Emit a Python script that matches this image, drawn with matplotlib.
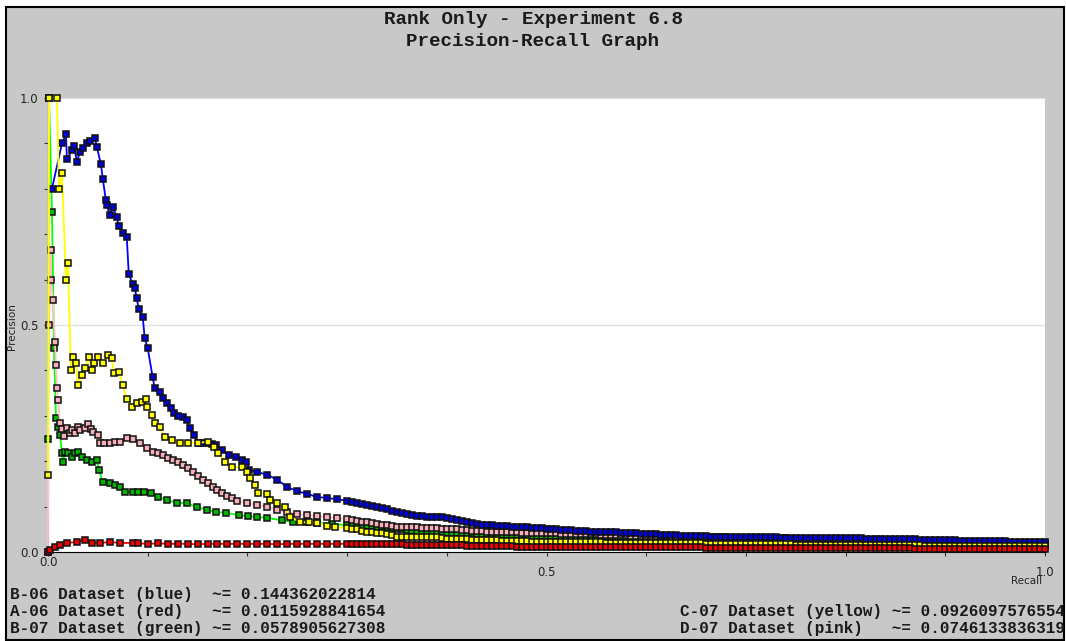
import numpy as np
import matplotlib
matplotlib.use("Agg")
import matplotlib.pyplot as plt
from matplotlib.patches import Rectangle
from matplotlib.transforms import ScaledTranslation

# ---- data ----------------------------------------------------------------- #
# head of every curve is listed point by point; the long flat tail is read
# every 0.005 of recall from 0.30 to 1.00
TAIL_RECALL = np.round(np.arange(0.300, 1.0001, 0.005), 3)

blue_recall = [0.004, 0.014, 0.018, 0.019, 0.024, 0.026, 0.029, 0.032, 0.035, 0.039,
               0.042, 0.047, 0.049, 0.053, 0.055, 0.058, 0.059, 0.062, 0.065, 0.069,
               0.071, 0.075, 0.079, 0.081, 0.085, 0.087, 0.089, 0.091, 0.095, 0.097,
               0.100, 0.105, 0.107, 0.112, 0.115, 0.119, 0.123, 0.126, 0.130, 0.135,
               0.139, 0.142, 0.146, 0.151, 0.155, 0.159, 0.164, 0.169, 0.175, 0.182,
               0.189, 0.195, 0.199, 0.202, 0.210, 0.220, 0.230, 0.240, 0.250, 0.260,
               0.270, 0.280, 0.290]
blue_prec = [0.80, 0.90, 0.92, 0.865, 0.885, 0.895, 0.86, 0.88, 0.89, 0.90,
             0.905, 0.912, 0.892, 0.855, 0.822, 0.775, 0.764, 0.742, 0.76, 0.738,
             0.718, 0.703, 0.694, 0.612, 0.59, 0.581, 0.559, 0.535, 0.518, 0.471,
             0.449, 0.385, 0.361, 0.352, 0.339, 0.328, 0.317, 0.306, 0.300, 0.297,
             0.291, 0.273, 0.258, 0.240, 0.241, 0.240, 0.238, 0.236, 0.225, 0.214,
             0.209, 0.203, 0.198, 0.181, 0.176, 0.170, 0.159, 0.143, 0.134, 0.128,
             0.121, 0.119, 0.116]
blue_tail = [.113, .110, .108, .106, .104, .102, .100, .097, .094, .091,
             .088, .086, .084, .082, .080, .079, .078, .077, .077, .076,
             .075, .072, .070, .068, .066, .064, .062, .060, .059, .059,
             .058, .057, .057, .056, .055, .055, .054, .053, .052, .052,
             .051, .050, .050, .049, .048, .048, .047, .046, .046, .045,
             .045, .044, .044, .043, .043, .042, .042, .041, .041, .040,
             .040, .039, .039, .038, .038, .037, .037, .036, .036, .035,
             .035, .035, .035, .034, .034, .034, .034, .033, .033, .033,
             .033, .033, .033, .032, .032, .032, .032, .031, .031, .031,
             .031, .031, .031, .030, .030, .030, .030, .030, .030, .030,
             .030, .030, .030, .030, .029, .029, .029, .029, .029, .029,
             .029, .028, .028, .028, .028, .027, .027, .027, .027, .026,
             .026, .026, .026, .025, .025, .025, .025, .025, .025, .024,
             .024, .024, .024, .023, .023, .023, .023, .023, .023, .022,
             .022]

red_recall = [0.0, 0.002, 0.007, 0.012, 0.019, 0.029, 0.037, 0.044, 0.052, 0.062,
              0.072, 0.085, 0.09, 0.10, 0.11, 0.12, 0.13, 0.14, 0.15, 0.16,
              0.17, 0.18, 0.19, 0.20, 0.21, 0.22, 0.23, 0.24, 0.25, 0.26,
              0.27, 0.28, 0.29]
red_prec = [0.0, 0.004, 0.011, 0.015, 0.020, 0.022, 0.026, 0.020, 0.020, 0.022,
            0.020, 0.020, 0.019, 0.018, 0.019, 0.018, 0.018, 0.018, 0.017, 0.018,
            0.018, 0.018, 0.018, 0.018, 0.018, 0.018, 0.017, 0.018, 0.018, 0.018,
            0.018, 0.018, 0.018]
red_tail = [.018, .018, .018, .018, .018, .018, .017, .017, .017, .017,
            .017, .017, .016, .016, .016, .016, .016, .016, .015, .015,
            .015, .015, .015, .015, .014, .014, .014, .014, .013, .013,
            .013, .013, .013, .013, .012, .012, .012, .012, .012, .012,
            .011, .011, .011, .011, .011, .011, .011, .011, .011, .011,
            .010, .010, .010, .010, .010, .010, .010, .010, .010, .010,
            .010, .010, .010, .010, .010, .010, .010, .010, .010, .010,
            .010, .010, .009, .009, .009, .009, .009, .009, .009, .009,
            .009, .009, .009, .009, .009, .009, .009, .009, .009, .009,
            .009, .009, .009, .009, .009, .009, .008, .008, .008, .008,
            .008, .008, .008, .008, .008, .008, .008, .008, .008, .008,
            .008, .008, .008, .008, .007, .007, .007, .007, .007, .007,
            .007, .007, .007, .007, .007, .007, .007, .007, .007, .007,
            .007, .007, .007, .007, .007, .007, .007, .007, .007, .007,
            .007]

green_recall = [0.0, 0.001, 0.004, 0.006, 0.008, 0.010, 0.012, 0.014, 0.015, 0.017,
                0.020, 0.024, 0.027, 0.030, 0.034, 0.039, 0.044, 0.049, 0.051, 0.055,
                0.062, 0.067, 0.072, 0.077, 0.085, 0.090, 0.096, 0.103, 0.110, 0.119,
                0.129, 0.139, 0.149, 0.159, 0.169, 0.179, 0.192, 0.201, 0.210, 0.220,
                0.235, 0.246, 0.260, 0.270, 0.285]
green_prec = [0.25, 1.0, 0.749, 0.45, 0.295, 0.275, 0.258, 0.218, 0.198, 0.22,
              0.218, 0.209, 0.218, 0.22, 0.209, 0.203, 0.198, 0.203, 0.181, 0.154,
              0.152, 0.148, 0.143, 0.132, 0.132, 0.133, 0.132, 0.130, 0.121, 0.115,
              0.108, 0.108, 0.099, 0.093, 0.088, 0.086, 0.081, 0.079, 0.077, 0.075,
              0.070, 0.066, 0.065, 0.064, 0.062]
green_tail = [.059, .059, .058, .058, .057, .057, .056, .055, .054, .053,
              .051, .050, .048, .046, .045, .044, .044, .043, .043, .043,
              .042, .042, .042, .041, .041, .041, .040, .040, .039, .039,
              .038, .038, .037, .037, .037, .037, .036, .036, .036, .035,
              .035, .035, .035, .034, .034, .034, .034, .033, .033, .033,
              .033, .033, .033, .032, .032, .032, .032, .031, .031, .031,
              .031, .031, .031, .030, .030, .030, .030, .030, .030, .029,
              .029, .029, .029, .029, .029, .028, .028, .028, .028, .028,
              .028, .027, .027, .027, .027, .027, .027, .026, .026, .026,
              .026, .026, .026, .025, .025, .025, .025, .025, .025, .024,
              .024, .024, .024, .024, .024, .023, .023, .023, .023, .023,
              .023, .022, .022, .022, .022, .022, .022, .021, .021, .021,
              .021, .021, .021, .020, .020, .020, .020, .020, .020, .019,
              .019, .019, .019, .019, .019, .018, .018, .018, .018, .018,
              .018]

yellow_recall = [0.0, 0.001, 0.009, 0.011, 0.014, 0.018, 0.020, 0.023, 0.025, 0.028,
                 0.030, 0.034, 0.037, 0.041, 0.044, 0.046, 0.050, 0.055, 0.060, 0.064,
                 0.066, 0.071, 0.075, 0.079, 0.084, 0.089, 0.094, 0.098, 0.099, 0.104,
                 0.107, 0.112, 0.117, 0.124, 0.132, 0.140, 0.150, 0.160, 0.166, 0.171,
                 0.178, 0.185, 0.195, 0.200, 0.203, 0.208, 0.211, 0.220, 0.223, 0.230,
                 0.238, 0.243, 0.253, 0.262, 0.270, 0.280, 0.288]
yellow_prec = [0.17, 1.0, 1.0, 0.80, 0.835, 0.60, 0.637, 0.401, 0.43, 0.416,
               0.368, 0.39, 0.405, 0.43, 0.401, 0.416, 0.43, 0.416, 0.434, 0.427,
               0.394, 0.396, 0.368, 0.337, 0.319, 0.328, 0.33, 0.337, 0.319, 0.302,
               0.284, 0.275, 0.253, 0.247, 0.24, 0.24, 0.24, 0.243, 0.231, 0.218,
               0.198, 0.187, 0.187, 0.176, 0.163, 0.148, 0.130, 0.128, 0.115, 0.108,
               0.099, 0.077, 0.066, 0.065, 0.064, 0.058, 0.055]
yellow_tail = [.053, .051, .050, .047, .044, .043, .042, .041, .040, .037,
               .034, .034, .033, .033, .033, .033, .033, .033, .032, .030,
               .029, .029, .029, .028, .028, .027, .027, .026, .026, .026,
               .026, .025, .025, .025, .025, .024, .024, .023, .023, .022,
               .022, .022, .022, .022, .022, .022, .022, .022, .021, .021,
               .021, .021, .020, .020, .020, .020, .020, .020, .020, .020,
               .020, .020, .019, .019, .019, .019, .019, .019, .019, .019,
               .019, .019, .018, .018, .018, .018, .018, .018, .018, .018,
               .017, .017, .017, .017, .017, .017, .017, .017, .017, .017,
               .016, .016, .016, .016, .016, .016, .016, .016, .016, .016,
               .016, .016, .015, .015, .015, .015, .015, .015, .015, .015,
               .015, .015, .015, .015, .015, .015, .014, .014, .014, .014,
               .014, .014, .014, .014, .014, .014, .014, .014, .014, .014,
               .014, .014, .013, .013, .013, .013, .013, .013, .013, .013,
               .013]

pink_recall = [0.0, 0.001, 0.001, 0.003, 0.003, 0.005, 0.007, 0.008, 0.009, 0.010,
               0.012, 0.014, 0.016, 0.019, 0.022, 0.024, 0.027, 0.030, 0.032, 0.037,
               0.040, 0.043, 0.045, 0.050, 0.052, 0.056, 0.062, 0.067, 0.072, 0.079,
               0.085, 0.092, 0.099, 0.105, 0.110, 0.115, 0.120, 0.125, 0.130, 0.135,
               0.140, 0.145, 0.150, 0.155, 0.160, 0.165, 0.170, 0.175, 0.180, 0.185,
               0.190, 0.200, 0.210, 0.220, 0.230, 0.240, 0.250, 0.260, 0.270, 0.280,
               0.290]
pink_prec = [0.0, 1.0, 0.5, 0.665, 0.60, 0.555, 0.463, 0.412, 0.361, 0.335,
             0.284, 0.27, 0.255, 0.273, 0.262, 0.268, 0.262, 0.275, 0.268, 0.273,
             0.282, 0.270, 0.264, 0.258, 0.240, 0.241, 0.240, 0.243, 0.242, 0.251,
             0.249, 0.240, 0.229, 0.220, 0.217, 0.214, 0.208, 0.203, 0.198, 0.192,
             0.184, 0.176, 0.168, 0.159, 0.151, 0.143, 0.137, 0.130, 0.124, 0.118,
             0.113, 0.108, 0.103, 0.099, 0.093, 0.088, 0.084, 0.081, 0.079, 0.077,
             0.075]
pink_tail = [.072, .070, .069, .067, .065, .063, .062, .060, .059, .057,
             .056, .055, .055, .054, .054, .053, .053, .052, .052, .051,
             .051, .050, .050, .049, .048, .047, .047, .046, .045, .044,
             .044, .043, .043, .043, .043, .042, .042, .042, .042, .041,
             .041, .041, .041, .040, .040, .040, .040, .039, .039, .039,
             .039, .038, .038, .038, .037, .037, .037, .036, .036, .036,
             .036, .035, .035, .035, .035, .034, .034, .034, .034, .033,
             .033, .033, .033, .032, .032, .032, .032, .031, .031, .031,
             .031, .031, .031, .030, .030, .030, .030, .030, .030, .029,
             .029, .029, .029, .029, .029, .028, .028, .028, .028, .028,
             .028, .027, .027, .027, .027, .027, .027, .026, .026, .026,
             .026, .026, .026, .025, .025, .025, .025, .024, .024, .024,
             .024, .023, .023, .023, .023, .022, .022, .022, .022, .021,
             .021, .021, .021, .020, .020, .020, .020, .019, .019, .019,
             .019]

legend_left = ["B-06 Dataset (blue)  ~= 0.144362022814",
               "A-06 Dataset (red)   ~= 0.0115928841654",
               "B-07 Dataset (green) ~= 0.0578905627308"]
legend_right = ["C-07 Dataset (yellow) ~= 0.0926097576554",
                "D-07 Dataset (pink)   ~= 0.0746133836319"]

# (recall, precision, tail, line colour, marker fill), bottom layer first
series = [
    (green_recall, green_prec, green_tail, "#00ff00", "#00b400"),
    (pink_recall, pink_prec, pink_tail, "#ffc0cb", "#f7b0ba"),
    (blue_recall, blue_prec, blue_tail, "#0000ff", "#0000dd"),
    (yellow_recall, yellow_prec, yellow_tail, "#ffff00", "#ffff00"),
    (red_recall, red_prec, red_tail, "#ff0000", "#ee0000"),
]

W, H = 1066, 641
fig = plt.figure(figsize=(W / 100, H / 100), dpi=100, facecolor="white")

# gray panel with black frame, kept behind the axes
fig.patches.append(Rectangle((6 / W, 1 / H), 1058 / W, 633 / H, transform=fig.transFigure,
                             facecolor="#c8c8c8", edgecolor="black", lw=1.5, zorder=-5))

ax = fig.add_axes([48 / W, (H - 552) / H, 997 / W, 454 / H])
ax.set_facecolor("white")

for k, (rec, prec, tail, lc, fc) in enumerate(series):
    x = np.concatenate([rec, TAIL_RECALL])
    y = np.concatenate([prec, tail])
    ax.plot(x, y, color=lc, lw=1.3, zorder=3 + 2 * k, clip_on=False)
    ax.plot(x, y, ls="none", marker="s", ms=4.9, mfc=fc, mec="#111111", mew=1.1,
            zorder=4 + 2 * k, clip_on=False)

ax.set_xlim(0, 1)
ax.set_ylim(0, 1)
for side in ("top", "right"):
    ax.spines[side].set_visible(False)
ax.spines["left"].set_color("#505050")
ax.spines["bottom"].set_color("black")

ax.set_yticks([0.0, 0.5, 1.0])
ax.set_yticklabels(["0.0", "0.5", "1.0"])
ax.set_yticks(np.arange(0, 1.01, 0.1), minor=True)
ax.set_xticks([0.0, 0.5, 1.0])
ax.set_xticklabels(["0.0", "0.5", "1.0"])
ax.set_xticks(np.arange(0, 1.01, 0.1), minor=True)
ax.tick_params(which="both", direction="out", length=3, width=0.8, color="#333333",
               labelsize=8.5, labelcolor="#222222")
ax.tick_params(axis="x", which="major", pad=7)
ax.tick_params(axis="y", which="major", pad=4)
ax.yaxis.grid(True, which="major", color="#e2e2e2", lw=1)
ax.set_axisbelow(True)

# first x label sits higher than the others in the reference
lbl0 = ax.get_xticklabels()[0]
lbl0.set_transform(lbl0.get_transform() + ScaledTranslation(0, 7 / 72, fig.dpi_scale_trans))

fig.text(1042 / W, 1 - 581 / H, "Recall", ha="right", va="center", fontsize=7.5,
         color="#222222")
fig.text(12 / W, 1 - 327 / H, "Precision", ha="center", va="center", rotation=90,
         fontsize=7.5, color="#222222")

mono = dict(family="Liberation Mono", weight="bold", color="#1a1a1a")
fig.text(0.5, 1 - 19 / H, "Rank Only - Experiment 6.8", ha="center", va="center",
         fontsize=13.9, **mono)
fig.text(0.5, 1 - 41 / H, "Precision-Recall Graph", ha="center", va="center",
         fontsize=13.9, **mono)

for i, s in enumerate(legend_left):
    fig.text(10 / W, 1 - (595 + 16.5 * i) / H, s, ha="left", va="center",
             fontsize=11.5, **mono)
for i, s in enumerate(legend_right):
    fig.text(680 / W, 1 - (611.5 + 16.5 * i) / H, s, ha="left", va="center",
             fontsize=11.5, **mono)

fig.savefig("out.png", dpi=100, facecolor="white")
